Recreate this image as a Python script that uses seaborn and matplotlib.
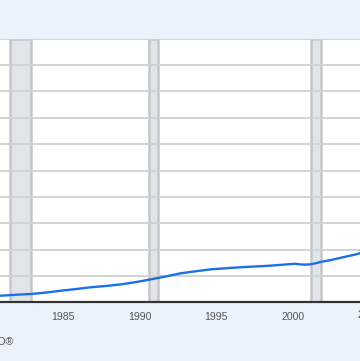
import matplotlib
matplotlib.use("Agg")
import matplotlib.pyplot as plt
import matplotlib.transforms as mtransforms
import seaborn as sns
import pandas as pd

years = [1980.87, 1981.5, 1982.0, 1982.9, 1983.9, 1984.85, 1985.8, 1986.8, 1987.8,
         1988.77, 1989.8, 1990.72, 1991.7, 1992.68, 1993.7, 1994.64, 1995.6, 1996.6,
         1997.6, 1998.55, 1999.2, 1999.86, 2000.2, 2000.51, 2000.8, 2001.16, 2001.5,
         2001.81, 2002.1, 2002.47, 2003.0, 2003.45, 2004.0, 2004.4]
values = [2.5, 2.7, 2.9, 3.15, 3.7, 4.4, 5.0, 5.7, 6.2,
          6.8, 7.7, 8.7, 9.8, 11.0, 11.8, 12.5, 12.9, 13.3,
          13.6, 13.9, 14.2, 14.5, 14.6, 14.35, 14.3, 14.4, 14.8,
          15.3, 15.6, 16.0, 16.7, 17.3, 18.0, 18.6]
recessions = [(1981.5, 1982.87), (1990.58, 1991.17), (2001.17, 2001.87)]
tick_years = [1985, 1990, 1995, 2000]
extra_tick = 2005

df = pd.DataFrame({"year": years, "value": values})

sns.set_style("white")
bg = "#eaf2fb"
fig = plt.figure(figsize=(3.6, 3.61), dpi=100, facecolor=bg)
ax = fig.add_axes([0.0, 0.1626, 1.0, 0.7302])
ax.set_facecolor("white")

for a, b in recessions:
    ax.axvspan(a, b, facecolor="#e1e5ea", edgecolor="#c6c6c6", linewidth=1.8, zorder=1)

for yv in range(0, 101, 10):
    ax.axhline(yv, color="#d0d0d0", linewidth=1.3, zorder=2)

sns.lineplot(data=df, x="year", y="value", ax=ax, color="#1a70e6", linewidth=1.7, zorder=4)

ax.set_xlim(1980.87, 2004.40)
ax.set_ylim(0, 100)
ax.set_yticks([])
ax.set_xticks(tick_years)
ax.set_xticklabels([str(t) for t in tick_years], fontsize=7.6, color="#555555",
                   family=["Liberation Sans", "DejaVu Sans"])
ax.tick_params(axis="x", length=4, width=0.8, color="#c5d5e8", pad=3)
ax.set_xlabel("")
ax.set_ylabel("")
for s in ["left", "right", "top"]:
    ax.spines[s].set_visible(False)
ax.spines["bottom"].set_color("#333333")
ax.spines["bottom"].set_linewidth(1.6)
ax.spines["bottom"].set_zorder(5)

trans = mtransforms.blended_transform_factory(ax.transData, ax.transAxes)
ax.text(extra_tick, -0.0285, str(extra_tick), transform=trans, ha="center", va="top",
        fontsize=7.6, color="#555555", family=["Liberation Sans", "DejaVu Sans"], clip_on=False)

fig.text(13.5 / 360, 1 - 342 / 361, "FRED®", ha="right", va="center",
         fontsize=7.6, color="#555555", family=["Liberation Sans", "DejaVu Sans"])

fig.savefig("out.png", dpi=100, facecolor=bg)
